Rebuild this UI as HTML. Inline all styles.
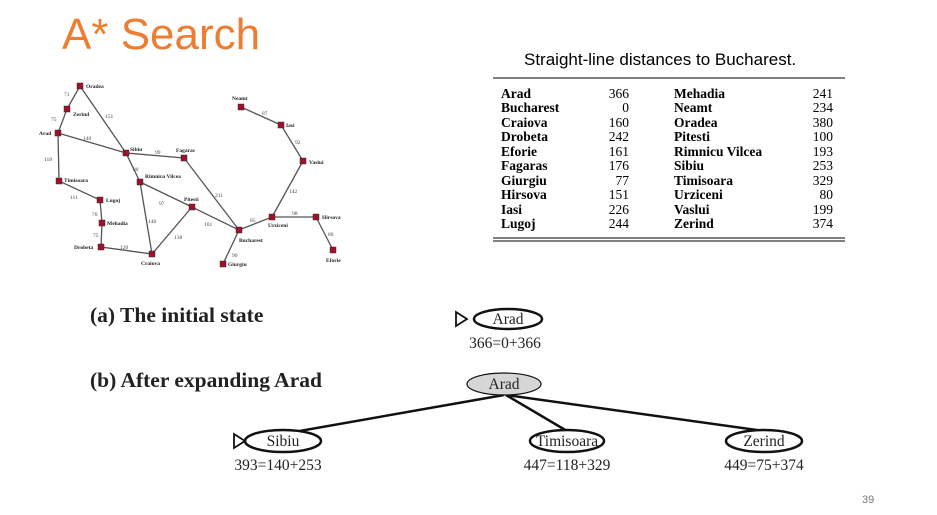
<!DOCTYPE html>
<html><head><style>
body{margin:0;width:937px;height:515px;background:#fff;position:relative;overflow:hidden;font-family:"Liberation Sans",sans-serif}
.t{position:absolute;white-space:nowrap}
</style></head><body>
<div class="t" style="left:62px;top:10px;font-size:44px;color:#ED7D31">A* Search</div>
<div class="t" style="left:524px;top:50px;font-size:17px;color:#000">Straight-line distances to Bucharest.</div>
<svg width="937" height="515" style="position:absolute;left:0;top:0" font-family="Liberation Serif, serif">
<g stroke="#555" stroke-width="1.3" fill="none">
<polyline points="80,86 67,109 58,133 59,181 100,200 102,223 101,247 152,254 192,207 239,230 223,264"/>
<line x1="80" y1="86" x2="126" y2="153"/><line x1="58" y1="133" x2="126" y2="153"/>
<line x1="126" y1="153" x2="184" y2="158"/><line x1="126" y1="153" x2="140" y2="182"/>
<line x1="140" y1="182" x2="192" y2="207"/><line x1="140" y1="182" x2="152" y2="254"/>
<line x1="184" y1="158" x2="239" y2="230"/><line x1="239" y1="230" x2="272" y2="217"/>
<line x1="272" y1="217" x2="316" y2="217"/><line x1="316" y1="217" x2="333" y2="250"/>
<line x1="272" y1="217" x2="303" y2="161"/><line x1="303" y1="161" x2="281" y2="125"/>
<line x1="281" y1="125" x2="241" y2="107"/>
</g>
<g fill="#a0102a" stroke="#333" stroke-width="0.5">
<rect x="77" y="83" width="6" height="6"/><rect x="64" y="106" width="6" height="6"/><rect x="55" y="130" width="6" height="6"/>
<rect x="123" y="150" width="6" height="6"/><rect x="181" y="155" width="6" height="6"/><rect x="137" y="179" width="6" height="6"/>
<rect x="56" y="178" width="6" height="6"/><rect x="97" y="197" width="6" height="6"/><rect x="99" y="220" width="6" height="6"/>
<rect x="98" y="244" width="6" height="6"/><rect x="149" y="251" width="6" height="6"/><rect x="189" y="204" width="6" height="6"/>
<rect x="236" y="227" width="6" height="6"/><rect x="220" y="261" width="6" height="6"/><rect x="269" y="214" width="6" height="6"/>
<rect x="313" y="214" width="6" height="6"/><rect x="330" y="247" width="6" height="6"/><rect x="300" y="158" width="6" height="6"/>
<rect x="278" y="122" width="6" height="6"/><rect x="238" y="104" width="6" height="6"/>
</g>
<g font-size="5.5" font-weight="bold" fill="#222">
<text x="86" y="88">Oradea</text><text x="73" y="116">Zerind</text><text x="39" y="135">Arad</text>
<text x="130" y="151">Sibiu</text><text x="176" y="152">Fagaras</text><text x="145" y="178">Rimnicu Vilcea</text>
<text x="64" y="182">Timisoara</text><text x="106" y="202">Lugoj</text><text x="107" y="225">Mehadia</text>
<text x="74" y="249">Drobeta</text><text x="141" y="265">Craiova</text><text x="184" y="201">Pitesti</text>
<text x="239" y="242">Bucharest</text><text x="228" y="266">Giurgiu</text><text x="268" y="227">Urziceni</text>
<text x="322" y="219">Hirsova</text><text x="326" y="262">Eforie</text><text x="309" y="164">Vaslui</text>
<text x="286" y="127">Iasi</text><text x="232" y="100">Neamt</text>
</g>
<g font-size="5.5" fill="#444">
<text x="64" y="96">71</text><text x="51" y="121">75</text><text x="105" y="118">151</text><text x="83" y="140">140</text>
<text x="44" y="161">118</text><text x="155" y="154">99</text><text x="133" y="171">80</text><text x="70" y="199">111</text>
<text x="92" y="216">70</text><text x="93" y="237">75</text><text x="120" y="249">120</text><text x="159" y="205">97</text>
<text x="148" y="223">146</text><text x="174" y="239">138</text><text x="204" y="226">101</text><text x="215" y="197">211</text>
<text x="250" y="222">85</text><text x="292" y="215">98</text><text x="328" y="236">86</text><text x="289" y="193">142</text>
<text x="232" y="257">90</text><text x="295" y="144">92</text><text x="262" y="115">87</text>
</g>
<line x1="493" y1="78" x2="845" y2="78" stroke="#000" stroke-width="1"/>
<line x1="493" y1="238" x2="845" y2="238" stroke="#000" stroke-width="1"/>
<line x1="493" y1="241" x2="845" y2="241" stroke="#000" stroke-width="1"/>
<g font-size="13.5" fill="#000">
<g font-weight="bold">
<text x="501" y="98">Arad</text><text x="501" y="112">Bucharest</text><text x="501" y="127">Craiova</text><text x="501" y="141">Drobeta</text><text x="501" y="156">Eforie</text><text x="501" y="170">Fagaras</text><text x="501" y="185">Giurgiu</text><text x="501" y="199">Hirsova</text><text x="501" y="214">Iasi</text><text x="501" y="228">Lugoj</text>
<text x="674" y="98">Mehadia</text><text x="674" y="112">Neamt</text><text x="674" y="127">Oradea</text><text x="674" y="141">Pitesti</text><text x="674" y="156">Rimnicu Vilcea</text><text x="674" y="170">Sibiu</text><text x="674" y="185">Timisoara</text><text x="674" y="199">Urziceni</text><text x="674" y="214">Vaslui</text><text x="674" y="228">Zerind</text>
</g>
<g text-anchor="end">
<text x="629" y="98">366</text><text x="629" y="112">0</text><text x="629" y="127">160</text><text x="629" y="141">242</text><text x="629" y="156">161</text><text x="629" y="170">176</text><text x="629" y="185">77</text><text x="629" y="199">151</text><text x="629" y="214">226</text><text x="629" y="228">244</text>
<text x="833" y="98">241</text><text x="833" y="112">234</text><text x="833" y="127">380</text><text x="833" y="141">100</text><text x="833" y="156">193</text><text x="833" y="170">253</text><text x="833" y="185">329</text><text x="833" y="199">80</text><text x="833" y="214">199</text><text x="833" y="228">374</text>
</g>
</g>
<text x="90" y="322" font-size="21.5" font-weight="bold" fill="#222">(a) The initial state</text>
<text x="90" y="387" font-size="21.5" font-weight="bold" fill="#222">(b) After expanding Arad</text>
<g stroke="#111" stroke-width="2.5" fill="none">
<line x1="504" y1="395" x2="254" y2="439"/><line x1="506" y1="395" x2="567" y2="431"/><line x1="506" y1="395" x2="764" y2="431"/>
</g>
<g stroke="#111" stroke-width="2.5" fill="#fff">
<ellipse cx="508" cy="319" rx="34" ry="10"/>
<ellipse cx="504" cy="384" rx="37" ry="11" fill="#d6d6d6" stroke-width="1.2"/>
<ellipse cx="283" cy="441" rx="38" ry="11"/>
<ellipse cx="567" cy="441" rx="37" ry="11"/>
<ellipse cx="764" cy="441" rx="38" ry="11"/>
<polygon points="456,312 467,319 456,326" stroke-width="1.8"/>
<polygon points="234,434 245,441 234,448" stroke-width="1.8"/>
</g>
<g font-size="15.5" fill="#222" text-anchor="middle">
<text x="508" y="324">Arad</text><text x="505" y="348">366=0+366</text>
<text x="504" y="389">Arad</text>
<text x="283" y="446">Sibiu</text><text x="278" y="470">393=140+253</text>
<text x="567" y="446">Timisoara</text><text x="567" y="470">447=118+329</text>
<text x="764" y="446">Zerind</text><text x="764" y="470">449=75+374</text>
</g>
<text x="862" y="503" font-size="11" fill="#777" font-family="Liberation Sans, sans-serif">39</text>
</svg>
</body></html>
